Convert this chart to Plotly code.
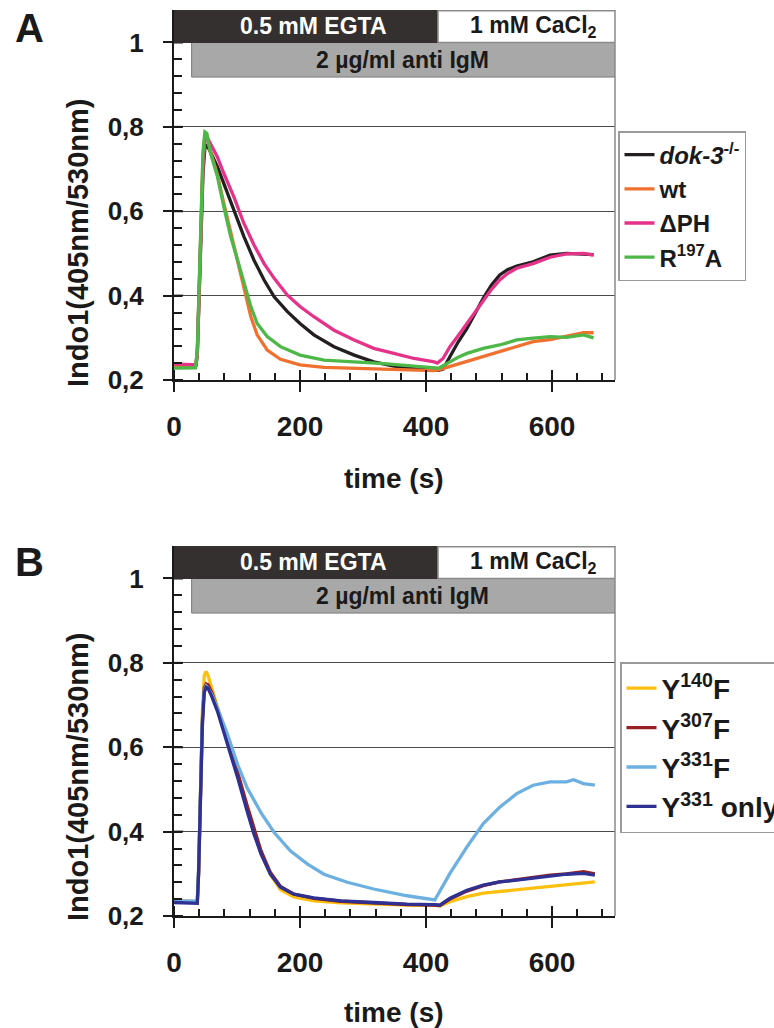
import plotly.graph_objects as go

# ---------------- data ----------------
# Panel A
a_black_t = [0, 20, 35, 37, 40, 43, 46, 49, 52, 58, 69, 79, 95, 111, 127, 143, 159, 180, 200, 222, 254, 286, 317, 349, 381, 413, 420, 427, 438, 451, 465, 478, 491, 504, 517, 530, 544, 570, 597, 623, 650, 666]
a_black_v = [0.236, 0.235, 0.236, 0.26, 0.40, 0.56, 0.69, 0.75, 0.758, 0.74, 0.705, 0.666, 0.603, 0.540, 0.484, 0.437, 0.397, 0.362, 0.334, 0.307, 0.279, 0.259, 0.243, 0.233, 0.228, 0.225, 0.223, 0.226, 0.255, 0.29, 0.322, 0.36, 0.394, 0.425, 0.449, 0.462, 0.470, 0.480, 0.496, 0.500, 0.499, 0.497]

a_pink_t = [0, 20, 35, 37, 40, 43, 46, 49, 52, 58, 69, 79, 95, 111, 127, 143, 159, 180, 200, 222, 254, 286, 317, 349, 381, 413, 418, 427, 438, 451, 465, 478, 491, 504, 517, 530, 544, 570, 597, 623, 650, 666]
a_pink_v = [0.238, 0.236, 0.236, 0.27, 0.42, 0.58, 0.71, 0.765, 0.777, 0.760, 0.728, 0.690, 0.634, 0.571, 0.520, 0.476, 0.441, 0.401, 0.374, 0.350, 0.318, 0.295, 0.275, 0.263, 0.251, 0.243, 0.240, 0.251, 0.279, 0.305, 0.334, 0.362, 0.390, 0.415, 0.437, 0.453, 0.465, 0.476, 0.491, 0.499, 0.500, 0.496]

a_green_t = [0, 20, 34, 37, 40, 43, 46, 49, 52, 58, 69, 79, 90, 101, 111, 122, 132, 148, 169, 200, 238, 286, 333, 381, 413, 420, 438, 451, 465, 491, 517, 544, 570, 597, 623, 650, 666]
a_green_v = [0.228, 0.228, 0.229, 0.27, 0.45, 0.62, 0.74, 0.788, 0.785, 0.737, 0.682, 0.611, 0.540, 0.484, 0.429, 0.374, 0.334, 0.303, 0.279, 0.259, 0.247, 0.243, 0.239, 0.233, 0.230, 0.228, 0.243, 0.254, 0.263, 0.275, 0.283, 0.295, 0.299, 0.303, 0.301, 0.307, 0.300]

a_orange_t = [0, 20, 34, 37, 40, 43, 46, 49, 52, 58, 69, 79, 90, 101, 111, 122, 132, 148, 169, 200, 238, 286, 333, 381, 412, 420, 438, 465, 491, 517, 544, 570, 597, 623, 650, 666]
a_orange_v = [0.235, 0.234, 0.234, 0.26, 0.43, 0.60, 0.73, 0.778, 0.780, 0.741, 0.686, 0.619, 0.548, 0.484, 0.413, 0.350, 0.307, 0.271, 0.249, 0.236, 0.230, 0.228, 0.225, 0.224, 0.222, 0.224, 0.232, 0.243, 0.255, 0.267, 0.279, 0.291, 0.296, 0.303, 0.312, 0.312]

# Panel B
b_t = [0, 20, 37, 39, 42, 45, 48, 51, 54, 60, 69, 85, 101, 116, 127, 138, 153, 169, 190, 222, 265, 317, 370, 413, 422, 438, 465, 491, 517, 544, 570, 597, 623, 650, 668]
b_navy_v = [0.232, 0.231, 0.230, 0.30, 0.48, 0.65, 0.73, 0.742, 0.74, 0.72, 0.685, 0.607, 0.528, 0.449, 0.394, 0.347, 0.299, 0.268, 0.252, 0.243, 0.236, 0.232, 0.228, 0.227, 0.226, 0.242, 0.261, 0.273, 0.281, 0.285, 0.289, 0.295, 0.299, 0.301, 0.297]
b_red_v = [0.235, 0.234, 0.234, 0.30, 0.48, 0.66, 0.74, 0.75, 0.748, 0.73, 0.69, 0.615, 0.54, 0.462, 0.405, 0.355, 0.303, 0.27, 0.252, 0.242, 0.235, 0.231, 0.227, 0.226, 0.225, 0.240, 0.259, 0.272, 0.281, 0.286, 0.291, 0.297, 0.300, 0.305, 0.300]
b_yellow_v = [0.235, 0.234, 0.234, 0.30, 0.49, 0.68, 0.77, 0.78, 0.77, 0.74, 0.69, 0.612, 0.535, 0.455, 0.40, 0.35, 0.298, 0.262, 0.245, 0.236, 0.231, 0.228, 0.226, 0.225, 0.224, 0.234, 0.246, 0.254, 0.258, 0.261, 0.265, 0.269, 0.273, 0.279, 0.281]
b_lblue_t = [0, 20, 37, 39, 42, 45, 48, 51, 54, 60, 69, 85, 101, 116, 138, 159, 185, 212, 238, 275, 317, 370, 414, 438, 465, 491, 517, 544, 570, 597, 623, 634, 650, 668]
b_lblue_v = [0.235, 0.235, 0.235, 0.31, 0.50, 0.67, 0.735, 0.745, 0.74, 0.725, 0.693, 0.63, 0.559, 0.504, 0.445, 0.398, 0.354, 0.323, 0.299, 0.28, 0.264, 0.248, 0.238, 0.301, 0.364, 0.419, 0.458, 0.49, 0.51, 0.518, 0.518, 0.523, 0.514, 0.51]

# condition bars (seconds / ratio units)
egta_span = [0, 419]
ca_span = [419, 700]
igm_span = [28, 700]
bar_top_span = [1.0, 1.077]
igm_y_span = [0.918, 1.0]

x_range = [0, 700]
y_range = [0.2, 1.077]
y_tickvals = [0.2, 0.4, 0.6, 0.8, 1.0]
y_ticktext = ["0,2", "0,4", "0,6", "0,8", "1"]
x_tickvals = [0, 200, 400, 600]

FONT = "Liberation Sans, Arial, Helvetica, sans-serif"
INK = "#1a1a1a"
W, H = 774, 1028


def px_x(p):
    return p / W


def px_y(p):
    return 1 - p / H


fig = go.Figure()

seriesA = [
    ("<i>dok-3</i><sup>-/-</sup>", a_black_t, a_black_v, "#231f20"),
    ("wt", a_orange_t, a_orange_v, "#f07030"),
    ("\u0394PH", a_pink_t, a_pink_v, "#e6338a"),
    ("R<sup>197</sup>A", a_green_t, a_green_v, "#4db848"),
]
for name, t, v, c in seriesA:
    fig.add_trace(go.Scatter(x=t, y=v, mode="lines", name=name, line=dict(color=c, width=3.3),
                             xaxis="x", yaxis="y", legend="legend"))

seriesB = [
    ("Y<sup>140</sup>F", b_t, b_yellow_v, "#fdc010"),
    ("Y<sup>307</sup>F", b_t, b_red_v, "#962023"),
    ("Y<sup>331</sup>F", b_lblue_t, b_lblue_v, "#6cb0e2"),
    ("Y<sup>331</sup> only", b_t, b_navy_v, "#2e3191"),
]
for name, t, v, c in seriesB:
    fig.add_trace(go.Scatter(x=t, y=v, mode="lines", name=name, line=dict(color=c, width=3.3),
                             xaxis="x2", yaxis="y2", legend="legend2"))

x_dom = [px_x(174), px_x(615)]
domA = [px_y(380), px_y(10)]
domB = [px_y(916), px_y(546)]


def xaxis_cfg(anchor):
    return dict(domain=x_dom, range=x_range, anchor=anchor, tickmode="array", tickvals=x_tickvals,
                ticks="outside", ticklen=10, tickwidth=2, tickcolor=INK,
                showline=True, linecolor=INK, linewidth=2, showgrid=False, zeroline=False,
                tickfont=dict(size=28, family=FONT, weight="bold", color=INK),
                ticklabelstandoff=10,
                minor=dict(tickmode="linear", tick0=0, dtick=40, ticks="inside", ticklen=7,
                           tickwidth=2, tickcolor=INK, showgrid=False))


def yaxis_cfg(anchor, dom):
    return dict(domain=dom, range=y_range, anchor=anchor, tickmode="array", tickvals=y_tickvals,
                ticktext=y_ticktext, ticks="outside", ticklen=9, tickwidth=2, tickcolor=INK,
                showline=True, linecolor=INK, linewidth=2, showgrid=True, gridcolor="#4a4a4a",
                gridwidth=1, zeroline=False,
                tickfont=dict(size=26, family=FONT, weight="bold", color=INK),
                ticklabelstandoff=14,
                minor=dict(tickmode="linear", tick0=0.2, dtick=0.04, ticks="inside", ticklen=8,
                           tickwidth=2, tickcolor=INK, showgrid=False))


shapes = []
annotations = []
for xa, ya, dom, yoff in [("x", "y", domA, 0), ("x2", "y2", domB, 534)]:
    # inner half of the crossing major ticks
    for tv in x_tickvals:
        shapes.append(dict(type="line", xref=xa, yref=ya, x0=tv, x1=tv, yanchor=y_range[0],
                           ysizemode="pixel", y0=0, y1=10, line=dict(color=INK, width=2)))
    for tv in y_tickvals:
        shapes.append(dict(type="line", xref=xa, yref=ya, y0=tv, y1=tv, xanchor=x_range[0],
                           xsizemode="pixel", x0=0, x1=9, line=dict(color=INK, width=2)))
    # right frame
    shapes.append(dict(type="line", xref="paper", yref="paper", x0=x_dom[1], x1=x_dom[1],
                       y0=dom[0], y1=dom[1], line=dict(color="#8a8a8a", width=1.5)))
    # condition bars
    shapes.append(dict(type="rect", xref=xa, yref=ya, x0=igm_span[0], x1=igm_span[1],
                       y0=igm_y_span[0], y1=igm_y_span[1], fillcolor="#a8a8a8",
                       line=dict(color="#7a7a7a", width=1), layer="above"))
    shapes.append(dict(type="rect", xref=xa, yref=ya, x0=egta_span[0] - 3, x1=egta_span[1],
                       y0=bar_top_span[0], y1=bar_top_span[1] + 0.01, fillcolor="#33302f",
                       line=dict(color="#33302f", width=1), layer="above"))
    shapes.append(dict(type="rect", xref=xa, yref=ya, x0=ca_span[0], x1=ca_span[1],
                       y0=bar_top_span[0], y1=bar_top_span[1] - 0.002, fillcolor="#ffffff",
                       line=dict(color="#8a8a8a", width=1.5), layer="above"))
    bar_font = dict(family=FONT, size=23, weight="bold")
    annotations.append(dict(xref=xa, yref=ya, x=221, y=1.038, xanchor="center", yanchor="middle",
                            text="0.5 mM EGTA", showarrow=False, font=dict(bar_font, color="#ffffff")))
    annotations.append(dict(xref=xa, yref=ya, x=571, y=1.038, xanchor="center", yanchor="middle",
                            text="1 mM CaCl<sub>2</sub>", showarrow=False, font=dict(bar_font, color=INK)))
    annotations.append(dict(xref=xa, yref=ya, x=363, y=0.958, xanchor="center", yanchor="middle",
                            text="2 \u00b5g/ml anti IgM", showarrow=False, font=dict(bar_font, color=INK)))
    # axis titles
    annotations.append(dict(xref="paper", yref="paper", x=px_x(78), y=px_y(243 + yoff),
                            xanchor="center", yanchor="middle",
                            text="Indo1(405nm/530nm)", textangle=-90, showarrow=False,
                            font=dict(family=FONT, size=29, weight="bold", color=INK)))
    annotations.append(dict(xref="paper", yref="paper", x=px_x(394), y=px_y(478 + yoff),
                            xanchor="center", yanchor="middle",
                            text="time (s)", showarrow=False,
                            font=dict(family=FONT, size=28, weight="bold", color=INK)))

annotations.append(dict(xref="paper", yref="paper", x=px_x(29), y=px_y(28), text="A", showarrow=False,
                        xanchor="center", yanchor="middle",
                        font=dict(family=FONT, size=40, weight="bold", color=INK)))
annotations.append(dict(xref="paper", yref="paper", x=px_x(29), y=px_y(562), text="B", showarrow=False,
                        xanchor="center", yanchor="middle",
                        font=dict(family=FONT, size=40, weight="bold", color=INK)))

fig.update_layout(
    width=W, height=H,
    margin=dict(l=0, r=0, t=0, b=0, autoexpand=False),
    paper_bgcolor="#ffffff", plot_bgcolor="#ffffff",
    font=dict(family=FONT, weight="bold", color=INK),
    xaxis=xaxis_cfg("y"), yaxis=yaxis_cfg("x", domA),
    xaxis2=xaxis_cfg("y2"), yaxis2=yaxis_cfg("x2", domB),
    shapes=shapes, annotations=annotations,
    legend=dict(x=px_x(618), y=px_y(131), xanchor="left", yanchor="top", bgcolor="#ffffff",
                bordercolor="#9a9a9a", borderwidth=1.5,
                font=dict(family=FONT, size=24, weight="bold", color=INK),
                tracegroupgap=0, itemwidth=30),
    legend2=dict(x=px_x(620), y=px_y(662), xanchor="left", yanchor="top", bgcolor="#ffffff",
                 bordercolor="#9a9a9a", borderwidth=1.5,
                 font=dict(family=FONT, size=28, weight="bold", color=INK),
                 tracegroupgap=0, itemwidth=30),
    showlegend=True,
)

fig.write_html("out.html", config={"displayModeBar": False},
               post_script="document.body.style.margin='0';")
